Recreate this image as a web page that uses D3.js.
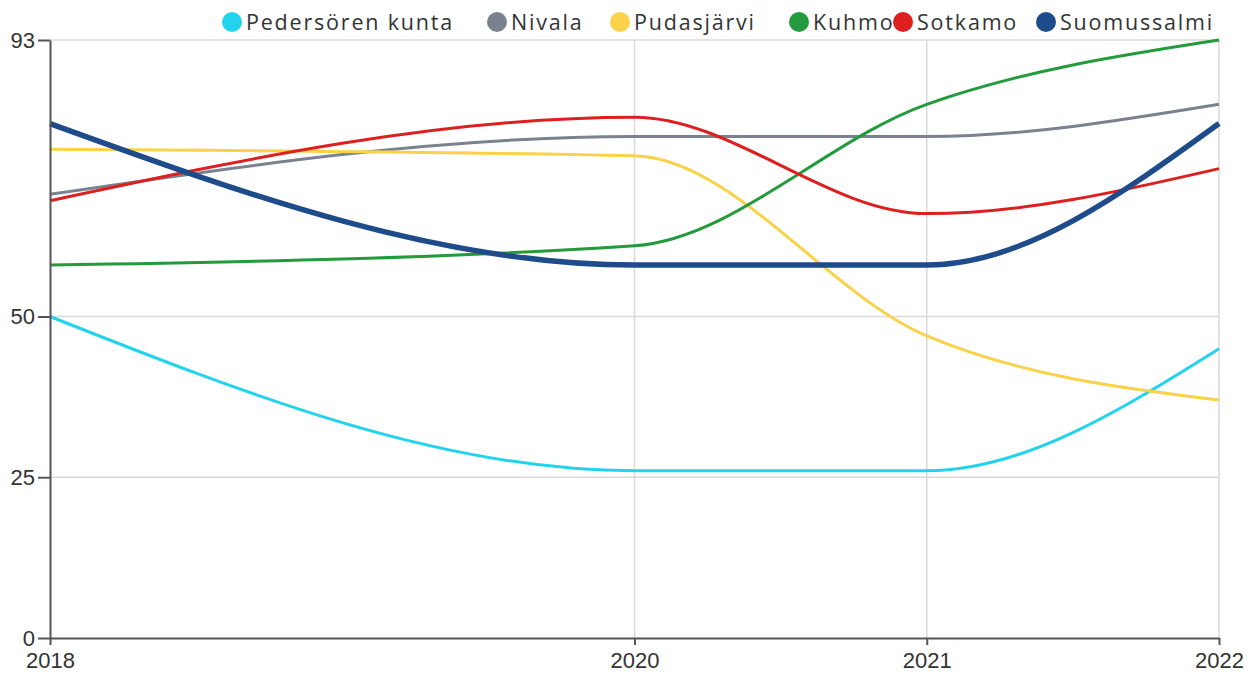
<!DOCTYPE html>
<html>
<head>
<meta charset="utf-8">
<script src="https://cdn.jsdelivr.net/npm/d3@7"></script>
<style>
  body { margin: 0; background: #fff; }
</style>
</head>
<body>
<svg id="canvas" width="1260" height="675"></svg>
<script>
var years = [2018, 2020, 2021, 2022];
var names = ["Pedersören kunta", "Nivala", "Pudasjärvi", "Kuhmo", "Sotkamo", "Suomussalmi"];
var pedersoren = [50, 26, 26, 45];
var nivala = [69, 78, 78, 83];
var pudasjarvi = [76, 75, 47, 37];
var kuhmo = [58, 61, 83, 93];
var sotkamo = [68, 81, 66, 73];
var suomussalmi = [80, 58, 58, 80];
var yTicks = [0, 25, 50, 93];

var colors = ["#22d3ee", "#7a8290", "#f9d24a", "#239a3b", "#dd1f1f", "#1e4b8a"];
var widths = [3, 3, 3, 3, 3, 5.5];
var legendX = [232, 497, 620, 799, 903, 1046];

var series = [pedersoren, nivala, pudasjarvi, kuhmo, sotkamo, suomussalmi].map(function(vals, i) {
	return { name: names[i], values: vals.map(function(v, j) { return { year: years[j], value: v }; }) };
});

var padLeft = 50, padRight = 1219, padTop = 40, padBottom = 638;
var svg = d3.select("#canvas");

var xScale = d3.scaleLinear().domain([2018, 2022]).range([padLeft, padRight]);
var yScale = d3.scaleLinear().domain([0, 93]).range([padBottom, padTop]);

// grid
svg.append("g").selectAll("line").data(yTicks.slice(1)).enter()
	.append("line")
	.attr("x1", padLeft).attr("x2", padRight)
	.attr("y1", d => yScale(d)).attr("y2", d => yScale(d))
	.attr("stroke", "#d9d9d9").attr("stroke-width", 1.5);
svg.append("g").selectAll("line").data(years.slice(1)).enter()
	.append("line")
	.attr("x1", d => xScale(d)).attr("x2", d => xScale(d))
	.attr("y1", padTop).attr("y2", padBottom)
	.attr("stroke", "#d9d9d9").attr("stroke-width", 1.5);

// lines
var line = d3.line()
	.x(d => xScale(d.year))
	.y(d => yScale(d.value))
	.curve(d3.curveMonotoneX);

svg.append("g").selectAll("path").data(series).enter()
	.append("path")
	.attr("d", d => line(d.values))
	.attr("fill", "none")
	.attr("stroke", (d, i) => colors[i])
	.attr("stroke-width", (d, i) => widths[i])
	.attr("stroke-linejoin", "round");

// axes
var xAxis = d3.axisBottom(xScale).tickValues(years).tickFormat(d3.format("d")).tickSize(7).tickSizeOuter(0);
var yAxis = d3.axisLeft(yScale).tickValues(yTicks).tickSize(12).tickSizeOuter(0);

var gx = svg.append("g")
	.attr("transform", "translate(0," + padBottom + ")")
	.call(xAxis);
var gy = svg.append("g")
	.attr("transform", "translate(" + padLeft + ",0)")
	.call(yAxis);

[gx, gy].forEach(function(g) {
	g.selectAll("path, line").attr("stroke", "#555").attr("stroke-width", 2);
	g.selectAll("text")
		.attr("font-family", "Liberation Sans, Arial, sans-serif")
		.attr("font-size", 22)
		.attr("fill", "#333");
});
gx.selectAll("text").attr("dy", "0.9em");
gy.selectAll("text").attr("x", -15);

// legend
var legend = svg.append("g").selectAll("g").data(series).enter()
	.append("g")
	.attr("transform", (d, i) => "translate(" + legendX[i] + ",22)");
legend.append("circle")
	.attr("r", 10)
	.attr("fill", (d, i) => colors[i]);
legend.append("text")
	.attr("x", 14)
	.attr("dy", "0.36em")
	.attr("font-family", "Open Sans, sans-serif")
	.attr("font-size", 21.5)
	.attr("letter-spacing", 1.8)
	.attr("fill", "#333")
	.text(d => d.name);
</script>
</body>
</html>
